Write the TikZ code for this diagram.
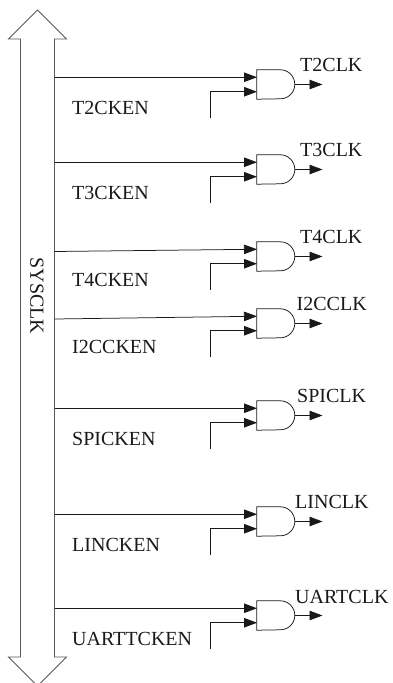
\documentclass[tikz,border=0pt]{standalone}
\usepackage{fontspec}
\setmainfont{Liberation Serif}
\usetikzlibrary{arrows.meta}
\tikzset{
	clkgate/.style={rectangle,inner sep=0pt,minimum width=38pt,minimum height=29pt},
	gateline/.style={color=black!90,line width=.75pt},
	clkline/.style={color=black!90,line width=.75pt,-{Triangle[length=13pt,width=9.5pt]}},
	lbl/.style={inner sep=0pt,font=\fontsize{20}{20}\selectfont,color=black!90}
}

\begin{document}
\begin{tikzpicture}[x=1pt,y=-1pt]
		\useasboundingbox (0,0) rectangle (392,683);
		% bus
		\draw[color=black!65,line width=.8pt] (37.5,10) -- (66.5,39) -- (54.5,39) -- (54.5,657) -- (66.5,657) -- (37.5,686)
			-- (8.5,657) -- (20.5,657) -- (20.5,39) -- (8.5,39) -- cycle;
		\node[lbl,rotate=-90] (sysclk) at (37,296) {SYSCLK};
		% one gate per peripheral
		\foreach \n/\top/\buspos/\en/\clk/\clkx/\clky in {
			a/70/77.25/T2CKEN/T2CLK/300/65,
			b/155/162.25/T3CKEN/T3CLK/300/150,
			c/242/251.5/T4CKEN/T4CLK/300/237,
			d/309/319/I2CCKEN/I2CCLK/296.5/304,
			e/401/408.25/SPICKEN/SPICLK/297/396,
			f/507/514.25/LINCKEN/LINCLK/295/502,
			g/601/608.25/UARTTCKEN/UARTCLK/295/597
		} {
			\pgfmathsetmacro{\gy}{\top+14.5}
			\pgfmathsetmacro{\iny}{\top+7.25}
			\pgfmathsetmacro{\inyy}{\top+21.75}
			\pgfmathsetmacro{\ey}{\top+48}
			\pgfmathsetmacro{\ly}{\top+38}
			\node[clkgate] (gate\n) at (276,\gy) {};
			\draw[gateline] (gate\n.north west) -- ++(23.5,0) arc (-90:90:14.5) -- (gate\n.south west) -- cycle;
			\coordinate (bus\n) at (54.5,\buspos);
			\coordinate (ina\n) at (257,\iny);
			\coordinate (inb\n) at (257,\inyy);
			\coordinate (stub\n) at (210,\ey);
			\coordinate (out\n) at (322.5,\gy);
			\draw[clkline] (bus\n) -- (ina\n);
			\draw[clkline] (stub\n) |- (inb\n);
			\draw[clkline] (gate\n.east) -- (out\n);
			\node[lbl,anchor=west] (en\n) at (72,\ly) {\en};
			\node[lbl,anchor=west] (clk\n) at (\clkx,\clky) {\clk};
		}
	\end{tikzpicture}
\end{document}
